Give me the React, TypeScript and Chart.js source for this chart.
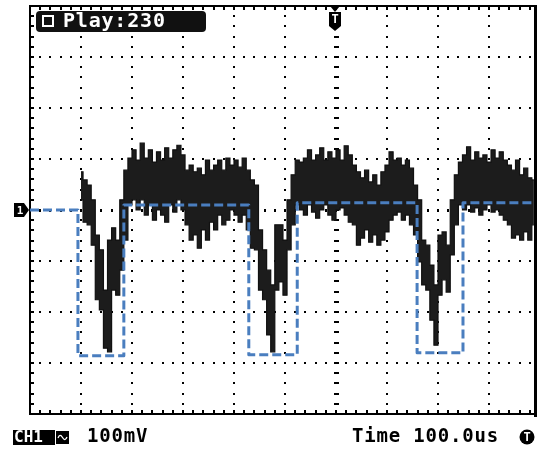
import React, { useEffect, useRef } from "react";
import { Chart, registerables } from "chart.js";
Chart.register(...registerables);

// ---- data (time in µs relative to trigger, amplitude in mV) ----
const traceStartUs = -500;
const traceStepUs = 8;
const traceHighMv = [
  75, 59, 49, 20, -49, -78, -157, -59, -35, -59, 20, 78, 102, 118, 98, 131,
  102, 118, 94, 114, 98, 122, 102, 118, 127, 108, 78, 88, 75, 82, 69, 98,
  78, 88, 98, 78, 102, 88, 98, 84, 102, 78, 59, 49, -39, -78, -118, -147,
  -29, -29, -59, 20, 69, 98, 94, 102, 118, 98, 108, 122, 98, 114, 102, 118,
  98, 126, 108, 88, 75, 63, 78, 55, 69, 49, 75, 88, 114, 98, 102, 88,
  98, 82, 49, 20, -59, -69, -108, -147, -49, -43, -69, 20, 69, 94, 108, 124,
  98, 114, 102, 108, 94, 118, 102, 114, 98, 88, 78, 98, 69, 82, 63, 59,
];
const traceLowMv = [
  20, -24, -29, -69, -176, -196, -271, -278, -157, -167, -118, -59, 10, 20, 0, 20,
  -10, 10, -20, 0, -10, -24, 10, -4, 20, 0, -29, -59, -49, -75, -39, -59,
  -24, -39, -10, -29, -20, 0, -10, -24, -10, -39, -75, -78, -157, -176, -245, -278,
  -157, -141, -167, -78, -29, 10, 0, -10, 10, -4, -16, 0, 10, -10, -20, 0,
  4, -10, -24, -29, -69, -55, -39, -63, -49, -69, -59, -43, -20, -10, -4, -20,
  -10, -29, -49, -102, -147, -157, -216, -265, -167, -137, -161, -88, -29, 10, 0, 10,
  -4, 4, -10, 0, 10, -4, 0, -10, -20, -29, -55, -49, -59, -43, -59, -29,
];
const traceTimeUs = traceHighMv.map((_, i) => traceStartUs + i * traceStepUs);

const refTimeUs = [-600, -506, -506, -416, -416, -171, -171, -76, -76, 159, 159, 249, 249, 392];
const refMv = [0, 0, -286, -286, 10, 10, -284, -284, 14, 14, -280, -280, 14, 14];

const xMinUs = -600;
const xMaxUs = 390.2;
const yMinMv = -400;
const yMaxMv = 400;
const xDivUs = 100;
const yDivMv = 100;

const playLabel = "Play:230";
const chLabel = "CH1";
const voltLabel = "100mV";
const timeLabel = "Time 100.0us";
const trigLabel = "T";
const chMarkerLabel = "1";

const MONO = '"DejaVu Sans Mono", monospace';

const graticule = {
  id: "graticule",
  beforeDatasetsDraw(chart: any) {
    const { ctx, chartArea: a, scales } = chart;
    const x = scales.x;
    const y = scales.y;
    ctx.save();
    ctx.fillStyle = "#000";
    const px = (t: number) => Math.round(x.getPixelForValue(t));
    const py = (v: number) => Math.round(y.getPixelForValue(v));
    // vertical dotted lines
    for (let t = xMinUs + xDivUs; t < xMaxUs; t += xDivUs) {
      if (t === 0) continue;
      const X = px(t);
      for (let v = yMinMv; v <= yMaxMv; v += yDivMv / 5) {
        ctx.fillRect(X - 1, py(v) - 1, 2, 2);
      }
    }
    // horizontal dotted lines
    for (let v = yMinMv + yDivMv; v < yMaxMv; v += yDivMv) {
      if (v === 0) continue;
      const Y = py(v);
      for (let t = xMinUs; t <= xMaxUs; t += xDivUs / 5) {
        ctx.fillRect(px(t) - 1, Y - 1, 2, 2);
      }
    }
    // center lines with ticks
    const cx = px(0);
    for (let v = yMinMv; v <= yMaxMv; v += yDivMv / 5) {
      ctx.fillRect(cx - 2, py(v) - 1, 5, 2);
    }
    const cy = py(0);
    for (let t = xMinUs; t <= xMaxUs; t += xDivUs / 5) {
      ctx.fillRect(px(t) - 1, cy - 1, 2, 3);
    }
    // border ticks
    for (let t = xMinUs; t <= xMaxUs; t += xDivUs / 5) {
      const X = px(t);
      ctx.fillRect(X - 1, a.top, 2, 4);
      ctx.fillRect(X - 1, a.bottom - 4, 2, 4);
    }
    for (let v = yMinMv; v <= yMaxMv; v += yDivMv / 5) {
      ctx.fillRect(a.left, py(v) - 1, 4, 2);
    }
    // borders
    ctx.fillRect(a.left - 1, a.top - 1, a.right - a.left, 2);
    ctx.fillRect(a.left - 1, a.bottom - 1, a.right - a.left, 2);
    ctx.fillRect(a.left - 1, a.top - 1, 2, a.bottom - a.top + 2);
    ctx.fillRect(a.right - 1, a.top - 1, 3, a.bottom - a.top + 4);
    ctx.restore();
  },
};

const overlay = {
  id: "overlay",
  afterDraw(chart: any) {
    const { ctx, chartArea: a, scales } = chart;
    const x = scales.x;
    const y = scales.y;
    ctx.save();
    // Play box
    ctx.fillStyle = "#111";
    ctx.beginPath();
    ctx.roundRect(36, 11, 170, 21, 4);
    ctx.fill();
    ctx.strokeStyle = "#fff";
    ctx.lineWidth = 2;
    ctx.strokeRect(43, 16, 10, 10);
    ctx.fillStyle = "#fff";
    ctx.font = `bold 20px ${MONO}`;
    ctx.textBaseline = "middle";
    ctx.textAlign = "left";
    (ctx as any).letterSpacing = "0.8px";
    ctx.fillText(playLabel, 63, 22);
    (ctx as any).letterSpacing = "0px";

    // trigger marker
    const tx = Math.round(x.getPixelForValue(0)) - 1;
    ctx.fillStyle = "#000";
    ctx.beginPath();
    ctx.moveTo(tx - 5, a.top);
    ctx.lineTo(tx + 5, a.top);
    ctx.lineTo(tx, a.top + 6);
    ctx.closePath();
    ctx.fill();
    ctx.beginPath();
    ctx.moveTo(tx - 6, 12);
    ctx.lineTo(tx + 6, 12);
    ctx.lineTo(tx + 6, 26);
    ctx.lineTo(tx, 31);
    ctx.lineTo(tx - 6, 26);
    ctx.closePath();
    ctx.fill();
    ctx.fillStyle = "#fff";
    ctx.font = `bold 12px ${MONO}`;
    ctx.textAlign = "center";
    ctx.fillText(trigLabel, tx, 20);

    // channel marker
    const my = Math.round(y.getPixelForValue(0));
    ctx.fillStyle = "#000";
    ctx.beginPath();
    ctx.moveTo(14, my - 7);
    ctx.lineTo(24, my - 7);
    ctx.lineTo(29, my);
    ctx.lineTo(24, my + 7);
    ctx.lineTo(14, my + 7);
    ctx.closePath();
    ctx.fill();
    ctx.fillStyle = "#fff";
    ctx.font = `bold 11px ${MONO}`;
    ctx.fillText(chMarkerLabel, 20, my + 1);

    // bottom status line
    const by = 437;
    ctx.fillStyle = "#000";
    ctx.fillRect(13, 430, 42, 15);
    ctx.fillStyle = "#fff";
    ctx.font = `bold 16px ${MONO}`;
    ctx.textAlign = "left";
    ctx.fillText(chLabel, 14, by + 1, 40);
    ctx.fillStyle = "#000";
    ctx.fillRect(56, 431, 13, 13);
    ctx.strokeStyle = "#fff";
    ctx.lineWidth = 1.3;
    ctx.beginPath();
    ctx.moveTo(58, 438);
    ctx.quadraticCurveTo(60, 433, 62.5, 437.5);
    ctx.quadraticCurveTo(65, 442, 67, 437);
    ctx.stroke();

    ctx.fillStyle = "#000";
    ctx.font = `bold 19px ${MONO}`;
    (ctx as any).letterSpacing = "0.8px";
    ctx.fillText(voltLabel, 87, by);
    ctx.fillText(timeLabel, 352, by);
    (ctx as any).letterSpacing = "0px";

    ctx.beginPath();
    ctx.arc(527, by, 7.5, 0, Math.PI * 2);
    ctx.fill();
    ctx.fillStyle = "#fff";
    ctx.font = `bold 12px ${MONO}`;
    ctx.textAlign = "center";
    ctx.fillText(trigLabel, 527, by + 1);
    ctx.restore();
  },
};

export default function App() {
  const ref = useRef<HTMLCanvasElement | null>(null);
  useEffect(() => {
    if (!ref.current) return;
    const high = traceTimeUs.map((t, i) => ({ x: t, y: traceHighMv[i] }));
    const low = traceTimeUs.map((t, i) => ({ x: t, y: traceLowMv[i] }));
    const refLine = refTimeUs.map((t, i) => ({ x: t, y: refMv[i] }));
    const chart = new Chart(ref.current, {
      type: "line",
      data: {
        datasets: [
          {
            data: refLine,
            borderColor: "#4a7ebf",
            borderWidth: 3,
            borderDash: [9, 4],
            borderJoinStyle: "round",
            pointRadius: 0,
            fill: false,
            tension: 0,
          },
          {
            data: high,
            borderColor: "#111",
            borderWidth: 1.2,
            pointRadius: 0,
            stepped: "middle",
            fill: false,
          },
          {
            data: low,
            borderColor: "#111",
            borderWidth: 1.2,
            backgroundColor: "#1c1c1c",
            pointRadius: 0,
            stepped: "middle",
            fill: 1,
          },
        ],
      },
      options: {
        responsive: false,
        animation: false,
        devicePixelRatio: 1,
        events: [],
        layout: { padding: { left: 30, top: 6, right: 2, bottom: 36 } },
        scales: {
          x: { type: "linear", min: xMinUs, max: xMaxUs, display: false },
          y: { type: "linear", min: yMinMv, max: yMaxMv, display: false },
        },
        plugins: { legend: { display: false }, tooltip: { enabled: false } },
      },
      plugins: [graticule, overlay],
    } as any);
    return () => chart.destroy();
  }, []);
  return (
    <div style={{ position: "absolute", left: 0, top: 0, width: 537, height: 450, background: "#fff" }}>
      <canvas ref={ref} width={537} height={450} style={{ display: "block" }} />
    </div>
  );
}
